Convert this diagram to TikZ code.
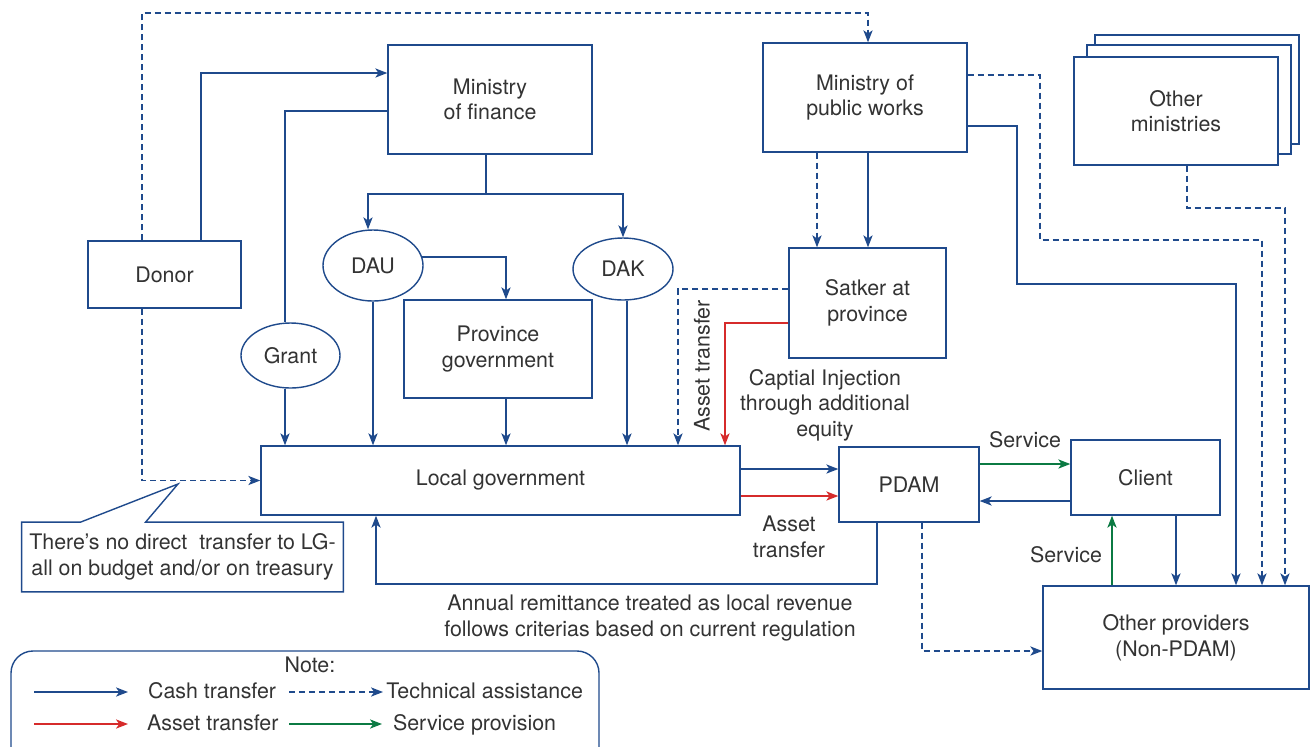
\documentclass[tikz,border=0pt]{standalone}
\usepackage{fontspec}
\setmainfont{TeX Gyre Heros}
\usetikzlibrary{shapes.geometric,arrows.meta}
\definecolor{linkblue}{HTML}{1F4A8C}
\definecolor{linkred}{HTML}{D62B2B}
\definecolor{linkgreen}{HTML}{0B7A43}
\definecolor{txtgray}{HTML}{333333}
\tikzstyle{every node}=[font=\fontsize{10.7}{12.8}\selectfont,text=txtgray,align=center]
\tikzstyle{box}=[draw=linkblue,line width=0.7pt,fill=white,inner sep=2pt]
\tikzstyle{oval}=[box,ellipse]
\tikzstyle{link}=[draw=linkblue,line width=0.7pt]
\tikzstyle{cash}=[link,-{Stealth[length=6pt,width=4.6pt,inset=1.6pt]}]
\tikzstyle{tech}=[cash,dash pattern=on 3pt off 2pt]
\tikzstyle{asset}=[cash,draw=linkred]
\tikzstyle{service}=[cash,draw=linkgreen]
\tikzstyle{key}=[anchor=west,text height=1.6ex,text depth=0.4ex]

\begin{document}
\begin{tikzpicture}[x=0.5pt,y=-0.5pt]
  \useasboundingbox (0,0) rectangle (1311,746);

  % ministries and donor
  \node[box,minimum width=76.5pt,minimum height=33.5pt] (donor) at (164.5,274.5) {Donor};
  \node[box,minimum width=102pt,minimum height=54.5pt] (mof) at (490,99.5) {Ministry\\of finance};
  \node[box,minimum width=102pt,minimum height=54.5pt] (mopw) at (865,97.5) {Ministry of\\public works};
  \node[box,minimum width=102pt,minimum height=54.5pt] (othersback) at (1197,89.5) {};
  \node[box,minimum width=102pt,minimum height=54.5pt] (othersmid) at (1189,99.5) {};
  \node[box,minimum width=102pt,minimum height=54pt] (others) at (1176,111) {Other\\ministries};

  % transfers
  \node[oval,minimum width=50pt,minimum height=35.5pt] (dau) at (373,265.5) {DAU};
  \node[oval,minimum width=50pt,minimum height=31pt] (dak) at (623,269) {DAK};
  \node[oval,minimum width=49.5pt,minimum height=32.5pt] (grant) at (290.5,355.5) {Grant};
  \node[box,minimum width=94pt,minimum height=49pt] (prov) at (498,349) {Province\\government};
  \node[box,minimum width=78.5pt,minimum height=55pt] (satker) at (867.5,303) {Satker at\\province};

  % local level
  \node[box,minimum width=239.5pt,minimum height=34.5pt] (lg) at (500.5,480.5) {Local government};
  \node[box,minimum width=70pt,minimum height=37.5pt] (pdam) at (909,484.5) {PDAM};
  \node[box,minimum width=74.5pt,minimum height=37.5pt] (client) at (1145.5,477.5) {Client};
  \node[box,minimum width=133pt,minimum height=51.5pt] (providers) at (1176,637.5) {Other providers\\(Non-PDAM)};

  % callout
  \node[minimum width=160.5pt,minimum height=34.5pt,inner sep=0pt] (remark) at (182.5,557)
    {There’s no direct\ \ transfer to LG-\\all on budget and/or on treasury};
  \coordinate (tip) at (178,484);
  \draw[link] ([xshift=29.5pt]remark.north west) -- (tip) -- ([xshift=62pt]remark.north west)
    -- (remark.north east) -- (remark.south east) -- (remark.south west) -- (remark.north west) -- cycle;

  % cash flows
  \draw[cash] (201,0 |- donor.north) |- (mof.west |- 0,73);
  \draw[link] (mof.west |- 0,111) -| (285,0 |- grant.north);
  \draw[cash] (285,0 |- grant.south) -- (285,0 |- lg.north);
  \draw[link] (486,0 |- mof.south) -- (486,194) coordinate (split);
  \draw[cash] (split) -| (368,0 |- dau.north);
  \draw[cash] (split) -| (dak.north);
  \draw[cash] (dau.10) -| (506,0 |- prov.north);
  \draw[cash] (dau.south) -- (dau.south |- lg.north);
  \draw[cash] (506,0 |- prov.south) -- (506,0 |- lg.north);
  \draw[cash] (627,0 |- dak.south) -- (627,0 |- lg.north);
  \draw[cash] (868,0 |- mopw.south) -- (868,0 |- satker.north);
  \draw[cash] (lg.east |- 0,469) -- (pdam.west |- 0,469);
  \draw[cash] (877,0 |- pdam.south) -- (877,584) -| (376,0 |- lg.south);
  \draw[cash] (client.west |- 0,501) -- (pdam.east |- 0,501);
  \draw[cash] (1176,0 |- client.south) -- (1176,0 |- providers.north);
  \draw[cash] (mopw.east |- 0,126) -| (1017,284) -| (1236,0 |- providers.north);

  % technical assistance
  \draw[tech] (142,0 |- donor.north) -- (142,13) -| (868,0 |- mopw.north);
  \draw[tech] (142,0 |- donor.south) |- (lg.west);
  \draw[tech] (817,0 |- mopw.south) -- (817,0 |- satker.north);
  \draw[tech] (satker.west |- 0,289) -| (678,0 |- lg.north);
  \draw[tech] (mopw.east |- 0,75) -| (1040,240) -| (1262,0 |- providers.north);
  \draw[tech] (1187,0 |- others.south) -- (1187,208) -| (1285,0 |- providers.north);
  \draw[tech] (922,0 |- pdam.south) |- (providers.west |- 0,651);

  % assets and services
  \draw[asset] (satker.west |- 0,323) -| (725,0 |- lg.north);
  \draw[asset] (lg.east |- 0,496) -- (pdam.west |- 0,496);
  \draw[service] (pdam.east |- 0,464) -- (client.west |- 0,464);
  \draw[service] (1112,0 |- providers.north) -- (1112,0 |- client.south);

  % labels
  \node[rotate=90] (satkerasset) at (702,366) {Asset transfer};
  \node (injection) at (825,405) {Captial Injection\\through additional\\equity};
  \node (lgasset) at (789,537) {Asset\\transfer};
  \node (remittance) at (650,618) {Annual remittance treated as local revenue\\follows criterias based on current regulation};
  \node (servclient) at (1025,440) {Service};
  \node (servother) at (1066,555) {Service};

  % legend
  \draw[link,rounded corners=11pt] (11,651) rectangle (599,790);
  \node (note) at (310,665) {Note:};
  \coordinate (k1) at (34,692);  \coordinate (k2) at (128,692);
  \coordinate (k3) at (289,692); \coordinate (k4) at (383,692);
  \coordinate (k5) at (34,724);  \coordinate (k6) at (128,724);
  \coordinate (k7) at (289,724); \coordinate (k8) at (382,724);
  \draw[cash] (k1) -- (k2);
  \draw[tech] (k3) -- (k4);
  \draw[asset] (k5) -- (k6);
  \draw[service] (k7) -- (k8);
  \node[key] (cashkey) at (141,692) {Cash transfer};
  \node[key,inner sep=1pt] (techkey) at (384,692) {Technical assistance};
  \node[key] (assetkey) at (140,724) {Asset transfer};
  \node[key] (servkey) at (386,724) {Service provision};
\end{tikzpicture}
\end{document}
